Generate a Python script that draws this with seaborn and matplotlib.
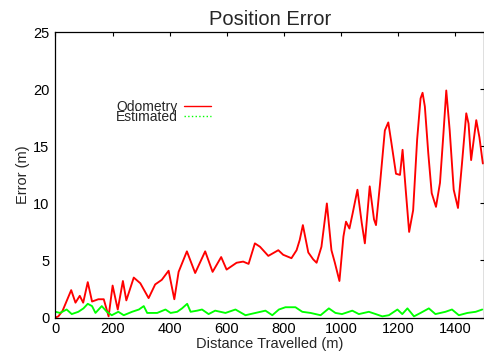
import matplotlib
matplotlib.use("Agg")
import matplotlib.pyplot as plt
from matplotlib.lines import Line2D
import seaborn as sns
import pandas as pd

# ---- data ----
odo_dist = [0, 10, 25, 40, 55, 70, 85, 97, 113, 128, 150, 169, 186, 200, 218, 236, 248,
            274, 297, 326, 349, 372, 396, 416, 431, 460, 489, 524, 550, 580, 599, 634,
            657, 676, 698, 716, 745, 780, 797, 826, 844, 855, 866, 885, 902, 914, 931,
            950, 966, 978, 994, 1008, 1017, 1029, 1040, 1057, 1072, 1083, 1100, 1115,
            1122, 1136, 1153, 1165, 1176, 1192, 1206, 1215, 1226, 1238, 1252, 1266,
            1278, 1285, 1293, 1305, 1317, 1332, 1346, 1358, 1368, 1380, 1394, 1409,
            1423, 1438, 1446, 1455, 1473, 1484, 1496]
odo_err = [0.0, 0.1, 0.6, 1.5, 2.4, 1.3, 1.9, 1.3, 3.1, 1.4, 1.6, 1.6, 0.1, 2.8, 0.7, 3.2, 1.5,
           3.5, 3.0, 1.7, 2.9, 3.3, 4.1, 1.6, 4.0, 5.8, 3.9, 5.8, 4.0, 5.3, 4.2, 4.8,
           4.9, 4.7, 6.5, 6.2, 5.4, 5.9, 5.5, 5.2, 5.9, 6.8, 8.1, 5.7, 5.1, 4.8, 6.2,
           10.0, 5.9, 4.8, 3.2, 7.1, 8.4, 7.8, 9.1, 11.2, 8.3, 6.5, 11.5, 8.6,
           8.1, 11.7, 16.4, 17.1, 15.3, 12.6, 12.5, 14.7, 11.2, 7.5, 9.4, 15.6,
           19.2, 19.7, 18.5, 14.4, 10.9, 9.7, 11.8, 16.1, 19.9, 16.4, 11.2, 9.6,
           13.5, 17.9, 17.0, 13.8, 17.3, 15.8, 13.5]

est_dist = [0, 16, 39, 57, 80, 98, 113, 128, 140, 162, 180, 197, 220, 239, 268, 292, 309,
            321, 356, 385, 403, 426, 443, 461, 473, 496, 513, 536, 559, 595, 630, 665,
            700, 735, 759, 782, 805, 840, 864, 893, 928, 957, 980, 1003, 1039, 1062,
            1097, 1121, 1144, 1167, 1197, 1214, 1232, 1255, 1278, 1307, 1330, 1365,
            1388, 1412, 1442, 1471, 1494]
est_err = [0.5, 0.4, 0.7, 0.3, 0.5, 0.8, 1.2, 1.0, 0.4, 1.0, 0.5, 0.2, 0.5, 0.2, 0.5, 0.7, 1.0,
           0.4, 0.4, 0.7, 0.4, 0.5, 0.8, 1.2, 0.5, 0.6, 0.7, 0.3, 0.6, 0.4, 0.7, 0.2,
           0.4, 0.6, 0.2, 0.7, 0.9, 0.9, 0.5, 0.4, 0.2, 0.8, 0.4, 0.3, 0.6, 0.3,
           0.5, 0.3, 0.1, 0.2, 0.7, 0.3, 0.8, 0.1, 0.4, 0.8, 0.3, 0.5,
           0.7, 0.2, 0.4, 0.5, 0.7]

x_ticks = [0, 200, 400, 600, 800, 1000, 1200, 1400]
y_ticks = [0, 5, 10, 15, 20, 25]
series_names = ["Odometry", "Estimated"]

sns.set_theme(style="white")
plt.rcParams['font.family'] = ['Liberation Sans', 'DejaVu Sans']

odo_df = pd.DataFrame({"d": odo_dist, "e": odo_err})
est_df = pd.DataFrame({"d": est_dist, "e": est_err})

fig = plt.figure(figsize=(4.85, 3.52), dpi=100)
ax = fig.add_axes([0.1144, 0.098, 0.8835, 0.8102])

sns.lineplot(data=odo_df, x="d", y="e", ax=ax, color="#ff0000", linewidth=1.35, legend=False)
sns.lineplot(data=est_df, x="d", y="e", ax=ax, color="#00ff00", linewidth=1.35, legend=False)

ax.set_xlim(0, 1500)
ax.set_ylim(0, 25)
ax.set_xticks(x_ticks)
ax.set_yticks(y_ticks)
ax.tick_params(direction="in", top=True, right=True, length=3.2, width=0.8,
               labelsize=10.5, colors="black")
ax.tick_params(axis="y", pad=4.5)
ax.tick_params(axis="x", pad=3)
for s in ax.spines.values():
    s.set_visible(True)
    s.set_color("black")
    s.set_linewidth(0.9)

ax.set_xlabel("Distance Travelled (m)", fontsize=10.5, labelpad=1)
ax.set_ylabel("Error (m)", fontsize=10.5, labelpad=2)
ax.set_title("Position Error", fontsize=14.5, pad=5)

handles = [Line2D([], [], color="#ff0000", lw=1.0, ls="-"),
           Line2D([], [], color="#00ff00", lw=1.0, ls=":")]
ax.legend(handles, series_names, loc="upper left", bbox_to_anchor=(0.141, 0.762),
          frameon=False, markerfirst=False, handlelength=1.92, handletextpad=0.45,
          labelspacing=-0.3, fontsize=10, borderpad=0, borderaxespad=0)

fig.savefig("out.png", dpi=100)
